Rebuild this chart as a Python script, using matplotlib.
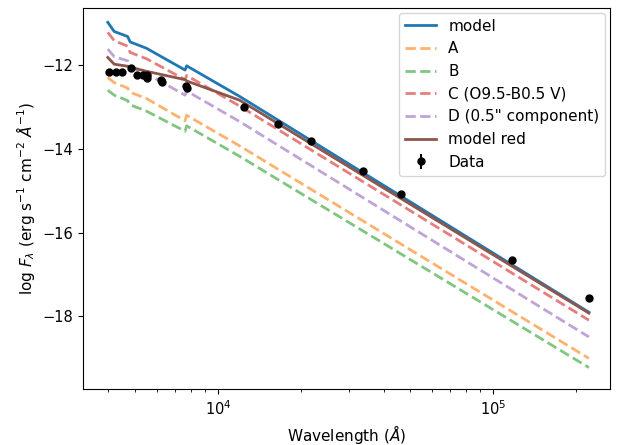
import numpy as np
import matplotlib
matplotlib.use("Agg")
import matplotlib.pyplot as plt

wl = [3980, 4200, 4700, 4800, 5500, 7600, 7700, 12000, 223000]
model = [-10.98, -11.2, -11.32, -11.45, -11.6, -12.12, -12.02, -12.75, -17.9]
A = [-12.3, -12.42, -12.55, -12.65, -12.8, -13.33, -13.2, -13.93, -19.0]
B = [-12.6, -12.72, -12.85, -12.95, -13.1, -13.58, -13.45, -14.18, -19.22]
C = [-11.22, -11.42, -11.55, -11.7, -11.85, -12.35, -12.25, -12.98, -18.09]
D = [-11.62, -11.8, -11.9, -12.05, -12.2, -12.72, -12.62, -13.35, -18.49]
model_red = [-11.82, -11.98, -12.03, -12.05, -12.15, -12.35, -12.38, -12.84, -17.92]

data_wl = [4020, 4260, 4480, 4830, 5070, 5340, 5520, 5540, 6200, 6250, 7650, 7700, 12430, 16530, 21790, 33690, 46300, 117000, 223000]
data_f = [-12.17, -12.17, -12.17, -12.07, -12.25, -12.25, -12.25, -12.3, -12.35, -12.4, -12.5, -12.55, -13.0, -13.4, -13.82, -14.52, -15.07, -16.65, -17.55]
data_err = [0.03] * len(data_wl)

fig = plt.figure(figsize=(6.18, 4.45), dpi=100)
ax = fig.add_axes([0.134, 0.125, 0.853, 0.857])
ax.plot(wl, model, color="tab:blue", lw=2, label="model")
ax.plot(wl, A, color="tab:orange", lw=2, ls="--", alpha=0.6, label="A")
ax.plot(wl, B, color="tab:green", lw=2, ls="--", alpha=0.6, label="B")
ax.plot(wl, C, color="tab:red", lw=2, ls="--", alpha=0.6, label="C (O9.5-B0.5 V)")
ax.plot(wl, D, color="tab:purple", lw=2, ls="--", alpha=0.6, label='D (0.5" component)')
ax.plot(wl, model_red, color="tab:brown", lw=2, label="model red")
ax.errorbar(data_wl, data_f, yerr=data_err, fmt="o", color="black", ms=5, label="Data")
ax.set_xscale("log")
ax.set_xlim(3230, 266000)
ax.set_ylim(-19.74, -10.64)
ax.set_yticks([-18, -16, -14, -12])
ax.tick_params(labelsize=10.5)
ax.set_xlabel(r"Wavelength ($\AA$)", fontsize=11)
ax.set_ylabel(r"log $F_\lambda$ (erg s$^{-1}$ cm$^{-2}$ $\AA^{-1}$)", fontsize=11)
ax.legend(loc="upper right", fontsize=11, borderaxespad=0.3)
fig.savefig("out.png", dpi=100)
